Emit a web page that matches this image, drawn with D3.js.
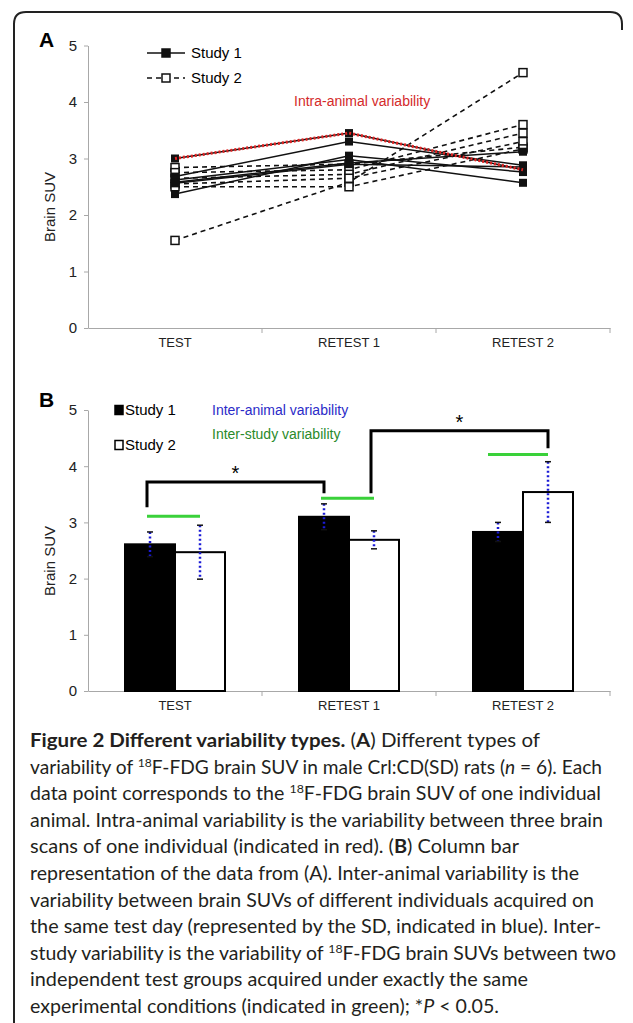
<!DOCTYPE html>
<html>
<head>
<meta charset="utf-8">
<script src="https://cdn.jsdelivr.net/npm/d3@7/dist/d3.min.js"></script>
<style>
  body { margin: 0; background: #fff; }
  svg { display: block; }
  .axis text { font-family: "Liberation Sans", Arial, sans-serif; fill: #222; }
  .axis path, .axis line { stroke: #a8a8a8; }
</style>
</head>
<body>
<div class="chart"></div>
<script>
var categories = ["TEST", "RETEST 1", "RETEST 2"];
var yTicks = [0, 1, 2, 3, 4, 5];

// panel A: one row per animal, values for TEST / RETEST 1 / RETEST 2
var study1Animals = [
  [3.00, 3.45, 2.80],
  [2.68, 3.30, 2.88],
  [2.37, 3.05, 2.76],
  [2.62, 2.98, 2.57],
  [2.58, 2.92, 3.12],
  [2.56, 2.90, 2.85]
];
var study2Animals = [
  [1.55, 2.58, 4.52],
  [2.84, 2.90, 3.20],
  [2.75, 2.80, 3.60],
  [2.65, 2.72, 3.45],
  [2.55, 2.65, 3.30],
  [2.50, 2.50, 3.17]
];
var highlightAnimal = 0; // study 1 animal marked in red

// panel B: means and SD
var study1Means = [2.61, 3.10, 2.83];
var study1SD = [0.22, 0.23, 0.17];
var study2Means = [2.47, 2.69, 3.54];
var study2SD = [0.48, 0.16, 0.54];
var interStudyLevels = [3.11, 3.43, 4.21];
var brackets = [
  { from: "TEST", fromStudy: "s1", to: "RETEST 1", toStudy: "s1", y0: 3.27, top: 3.72, y1: 3.52 },
  { from: "RETEST 1", fromStudy: "s2", to: "RETEST 2", toStudy: "s2", y0: 3.52, top: 4.63, y1: 4.32 }
];

var captionLines = [
  [{ t: "Figure 2 Different variability types.", b: 1 }, { t: " (" }, { t: "A", b: 1 }, { t: ") Different types of" }],
  [{ t: "variability of " }, { t: "18", sup: 1 }, { t: "F-FDG brain SUV in male Crl:CD(SD) rats (" }, { t: "n", i: 1 }, { t: " = 6). Each" }],
  [{ t: "data point corresponds to the " }, { t: "18", sup: 1 }, { t: "F-FDG brain SUV of one individual" }],
  [{ t: "animal. Intra-animal variability is the variability between three brain" }],
  [{ t: "scans of one individual (indicated in red). (" }, { t: "B", b: 1 }, { t: ") Column bar" }],
  [{ t: "representation of the data from (A). Inter-animal variability is the" }],
  [{ t: "variability between brain SUVs of different individuals acquired on" }],
  [{ t: "the same test day (represented by the SD, indicated in blue). Inter-" }],
  [{ t: "study variability is the variability of " }, { t: "18", sup: 1 }, { t: "F-FDG brain SUVs between two" }],
  [{ t: "independent test groups acquired under exactly the same" }],
  [{ t: "experimental conditions (indicated in green); *" }, { t: "P", i: 1 }, { t: " < 0.05." }]
];
var captionEnds = [540, 602, 601, 603, 519, 579, 594, 601, 616, 528, 499];

var width = 633, height = 1023;
var font = "'Liberation Sans', Arial, sans-serif";

var svg = d3.select("div.chart").append("svg")
  .attr("width", width)
  .attr("height", height);

// frame
svg.append("path")
  .attr("d", "M14,1023 V24 Q14,12 26,12 H610 Q622,12 622,24 V30")
  .attr("fill", "none")
  .attr("stroke", "#222")
  .attr("stroke-width", 2);

var xScale = d3.scaleBand()
  .domain(categories)
  .range([88, 610])
  .padding(0);
var bw = xScale.bandwidth();
var cx = c => xScale(c) + bw / 2;

function drawAxes(g, yScale, y0) {
  var yAxis = d3.axisLeft(yScale)
    .tickValues(yTicks)
    .tickFormat(d3.format("d"))
    .tickSize(4)
    .tickSizeOuter(0)
    .tickPadding(7);
  g.append("g")
    .attr("class", "y axis")
    .attr("transform", "translate(88,0)")
    .call(yAxis)
    .selectAll("text").style("font-size", "15px");

  var xAxis = d3.axisBottom(xScale)
    .tickSize(0)
    .tickSizeOuter(0)
    .tickPadding(10);
  var xg = g.append("g")
    .attr("class", "x axis")
    .attr("transform", `translate(0,${y0})`)
    .call(xAxis);
  xg.selectAll("text").style("font-size", "13px");
  xg.selectAll("line.bound")
    .data(categories)
    .enter()
    .append("line")
    .attr("class", "bound")
    .attr("x1", d => xScale(d) + bw)
    .attr("x2", d => xScale(d) + bw)
    .attr("y1", 0)
    .attr("y2", 5);
}

function axisTitle(g, x, y) {
  g.append("text")
    .attr("transform", `translate(${x},${y}) rotate(-90)`)
    .attr("text-anchor", "middle")
    .attr("dy", "0.35em")
    .style("font-family", font)
    .style("font-size", "15px")
    .attr("fill", "#222")
    .text("Brain SUV");
}

// ---------- panel A ----------
var gA = svg.append("g");
var yA = d3.scaleLinear().domain([0, 5]).range([328, 45.5]);
drawAxes(gA, yA, 328);
axisTitle(gA, 50, 207);

gA.append("text")
  .attr("x", 39).attr("y", 47)
  .style("font-family", font).style("font-size", "21px").style("font-weight", "bold")
  .text("A");

var line = d3.line()
  .x((d, i) => cx(categories[i]))
  .y(d => yA(d));

gA.append("g").selectAll("path")
  .data(study2Animals)
  .enter()
  .append("path")
  .attr("d", line)
  .attr("fill", "none")
  .attr("stroke", "#111")
  .attr("stroke-width", 1.6)
  .attr("stroke-dasharray", "5,4");

gA.append("g").selectAll("path")
  .data(study1Animals)
  .enter()
  .append("path")
  .attr("d", line)
  .attr("fill", "none")
  .attr("stroke", "#111")
  .attr("stroke-width", 1.5);

var msize = 8;
study2Animals.forEach(function(row) {
  gA.append("g").selectAll("rect")
    .data(row)
    .enter()
    .append("rect")
    .attr("x", (d, i) => cx(categories[i]) - msize / 2)
    .attr("y", d => yA(d) - msize / 2)
    .attr("width", msize)
    .attr("height", msize)
    .attr("fill", "#fff")
    .attr("stroke", "#111")
    .attr("stroke-width", 1.5);
});
study1Animals.forEach(function(row) {
  gA.append("g").selectAll("rect")
    .data(row)
    .enter()
    .append("rect")
    .attr("x", (d, i) => cx(categories[i]) - msize / 2)
    .attr("y", d => yA(d) - msize / 2)
    .attr("width", msize)
    .attr("height", msize)
    .attr("fill", "#111");
});

gA.append("path")
  .attr("d", line(study1Animals[highlightAnimal]))
  .attr("fill", "none")
  .attr("stroke", "#e02424")
  .attr("stroke-width", 3)
  .attr("stroke-dasharray", "2,2");

gA.append("text")
  .attr("x", 294).attr("y", 101).attr("dy", "0.35em")
  .style("font-family", font).style("font-size", "14px")
  .attr("fill", "#d42a2a")
  .text("Intra-animal variability");

// legend A
[["Study 1", 53, false], ["Study 2", 78, true]].forEach(function(l) {
  gA.append("line")
    .attr("x1", 147).attr("x2", 185)
    .attr("y1", l[1]).attr("y2", l[1])
    .attr("stroke", "#111").attr("stroke-width", 1.5)
    .attr("stroke-dasharray", l[2] ? "5,4" : null);
  gA.append("rect")
    .attr("x", 166 - msize / 2).attr("y", l[1] - msize / 2)
    .attr("width", msize).attr("height", msize)
    .attr("fill", l[2] ? "#fff" : "#111")
    .attr("stroke", "#111").attr("stroke-width", 1.5);
  gA.append("text")
    .attr("x", 191).attr("y", l[1]).attr("dy", "0.35em")
    .style("font-family", font).style("font-size", "15px")
    .text(l[0]);
});

// ---------- panel B ----------
var gB = svg.append("g");
var yB = d3.scaleLinear().domain([0, 5]).range([691, 410]);
drawAxes(gB, yB, 691);
axisTitle(gB, 50, 561);

gB.append("text")
  .attr("x", 39).attr("y", 407)
  .style("font-family", font).style("font-size", "21px").style("font-weight", "bold")
  .text("B");

var xInner = d3.scaleBand()
  .domain(["s1", "s2"])
  .range([0, bw])
  .paddingOuter(0.74)
  .paddingInner(0);
var ib = xInner.bandwidth();
var barX = (c, s) => xScale(c) + xInner(s);
var barC = (c, s) => barX(c, s) + ib / 2;

var barData = [];
categories.forEach(function(c, i) {
  barData.push({ c: c, s: "s1", v: study1Means[i], sd: study1SD[i] });
  barData.push({ c: c, s: "s2", v: study2Means[i], sd: study2SD[i] });
});

gB.append("g").attr("class", "bars")
  .selectAll("rect")
  .data(barData)
  .enter()
  .append("rect")
  .attr("x", d => barX(d.c, d.s))
  .attr("y", d => yB(d.v))
  .attr("width", ib)
  .attr("height", d => yB(0) - yB(d.v))
  .attr("fill", d => d.s == "s1" ? "#000" : "#fff")
  .attr("stroke", "#000")
  .attr("stroke-width", 2);

// error bars (SD)
var eb = gB.append("g").attr("class", "errorbars");
barData.forEach(function(d) {
  var x = barC(d.c, d.s);
  eb.append("line")
    .attr("x1", x).attr("x2", x)
    .attr("y1", yB(d.v + d.sd)).attr("y2", yB(d.v - d.sd))
    .attr("stroke", "#1a1ad6").attr("stroke-width", 2.5)
    .attr("stroke-dasharray", "2,2.5");
  [d.v + d.sd, d.v - d.sd].forEach(function(v) {
    eb.append("line")
      .attr("x1", x - 3).attr("x2", x + 3)
      .attr("y1", yB(v)).attr("y2", yB(v))
      .attr("stroke", "#111").attr("stroke-width", 1.5);
  });
});

// inter-study lines
gB.append("g").selectAll("line")
  .data(categories)
  .enter()
  .append("line")
  .attr("x1", (d, i) => barC(d, "s1") - (i == 2 ? 10 : 3))
  .attr("x2", d => barC(d, "s2"))
  .attr("y1", (d, i) => yB(interStudyLevels[i]))
  .attr("y2", (d, i) => yB(interStudyLevels[i]))
  .attr("stroke", "#3ad13a")
  .attr("stroke-width", 3);

// significance brackets
brackets.forEach(function(b) {
  var x0 = barC(b.from, b.fromStudy) - 3;
  var x1 = barC(b.to, b.toStudy);
  gB.append("path")
    .attr("d", `M${x0},${yB(b.top) + 0} V${yB(b.top)}`)
    .attr("d", `M${x0},${yB(b.y0)} V${yB(b.top)} H${x1} V${yB(b.y1)}`)
    .attr("fill", "none")
    .attr("stroke", "#000")
    .attr("stroke-width", 3);
  gB.append("text")
    .attr("x", (x0 + x1) / 2).attr("y", yB(b.top) - 2)
    .attr("text-anchor", "middle")
    .style("font-family", font).style("font-size", "20px")
    .text("*");
});

// legend B
[["Study 1", 410, "#000"], ["Study 2", 445, "#fff"]].forEach(function(l) {
  gB.append("rect")
    .attr("x", 115).attr("y", l[1] - 4.5)
    .attr("width", 8).attr("height", 9)
    .attr("fill", l[2]).attr("stroke", "#000").attr("stroke-width", 1.5);
  gB.append("text")
    .attr("x", 125).attr("y", l[1]).attr("dy", "0.35em")
    .style("font-family", font).style("font-size", "15px")
    .text(l[0]);
});
gB.append("text")
  .attr("x", 212).attr("y", 410).attr("dy", "0.35em")
  .style("font-family", font).style("font-size", "14px")
  .attr("fill", "#2b2bc8")
  .text("Inter-animal variability");
gB.append("text")
  .attr("x", 212).attr("y", 434).attr("dy", "0.35em")
  .style("font-family", font).style("font-size", "14px")
  .attr("fill", "#2a8a2a")
  .text("Inter-study variability");

// ---------- caption ----------
var cap = svg.append("g")
  .style("font-family", "Lato, 'Open Sans', sans-serif")
  .style("font-size", "19px")
  .attr("fill", "#231f20");
captionLines.forEach(function(segs, i) {
  var t = cap.append("text")
    .attr("x", 30)
    .attr("y", 747 + i * 26.6)
    .attr("textLength", captionEnds[i] - 30)
    .attr("lengthAdjust", "spacingAndGlyphs");
  var shifted = false;
  segs.forEach(function(s) {
    var ts = t.append("tspan").text(s.t);
    if (s.b) ts.style("font-weight", "bold");
    if (s.i) ts.style("font-style", "italic");
    if (s.sup) {
      ts.style("font-size", "12px").attr("dy", -7);
      shifted = true;
    } else if (shifted) {
      ts.attr("dy", 7);
      shifted = false;
    }
  });
});
</script>
</body>
</html>
